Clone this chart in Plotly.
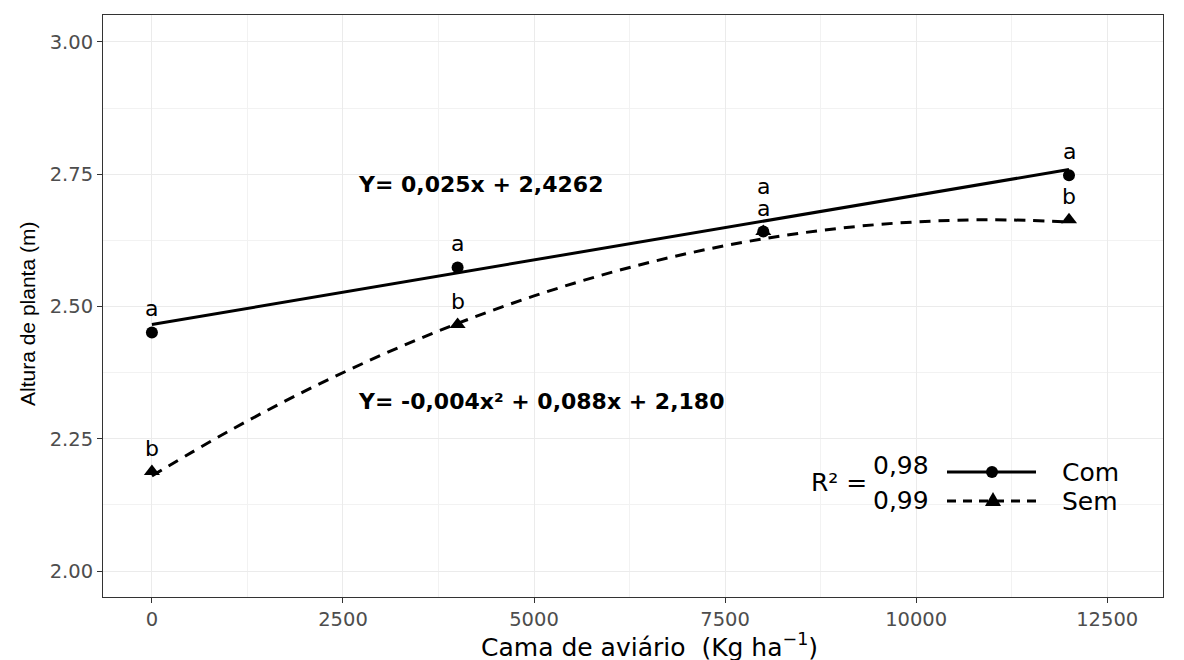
import plotly.graph_objects as go

# ---- data ----
doses = [0, 4000, 8000, 12000]
com_obs = [2.451, 2.574, 2.642, 2.748]
sem_obs = [2.188, 2.466, 2.642, 2.664]
com_letters = ["a", "a", "a", "a"]
sem_letters = ["b", "b", "a", "b"]

com_fit_x = [0, 12000]
com_fit_y = [2.466, 2.759]
sem_fit_x = [0, 1000, 2000, 3000, 4000, 5000, 6000, 7000, 8000, 9000, 10000, 11000, 12000]
sem_fit_y = [2.180, 2.264, 2.340, 2.408, 2.468, 2.520, 2.564, 2.600, 2.628, 2.648, 2.660, 2.664, 2.660]

eq_com = "Y= 0,025x + 2,4262"
eq_sem = "Y= -0,004x² + 0,088x + 2,180"
r2_com = "0,98"
r2_sem = "0,99"

x_ticks = [0, 2500, 5000, 7500, 10000, 12500]
x_ticktext = ["0", "2500", "5000", "7500", "10000", "12500"]
y_ticks = [2.00, 2.25, 2.50, 2.75, 3.00]

fig = go.Figure()

fig.add_trace(go.Scatter(x=com_fit_x, y=com_fit_y, mode="lines",
                         line=dict(color="black", width=3), showlegend=False, hoverinfo="skip"))
fig.add_trace(go.Scatter(x=sem_fit_x, y=sem_fit_y, mode="lines", line_shape="spline",
                         line=dict(color="black", width=3, dash="11px,8px"), showlegend=False, hoverinfo="skip"))
fig.add_trace(go.Scatter(x=doses, y=com_obs, mode="markers",
                         marker=dict(symbol="circle", size=12, color="black"), showlegend=False))
fig.add_trace(go.Scatter(x=doses, y=sem_obs, mode="markers",
                         marker=dict(symbol="triangle-up", size=14, color="black"), showlegend=False))

HFONT = "DejaVu Sans, Liberation Sans, Arial"
lab_font = dict(family=HFONT, size=22, color="black")
for i, (x, y, t) in enumerate(zip(doses, com_obs, com_letters)):
    extra = 21 if i == 2 else 0
    fig.add_annotation(x=x, y=y, text=t, showarrow=False, yshift=24 + extra, font=lab_font)
for x, y, t in zip(doses, sem_obs, sem_letters):
    fig.add_annotation(x=x, y=y, text=t, showarrow=False, yshift=23, font=lab_font)

eq_font = dict(family="DejaVu Sans, Verdana", size=22, color="black", weight="bold")
fig.add_annotation(x=2670, y=2.731, text=eq_com, showarrow=False, xanchor="left", yanchor="middle", font=eq_font)
fig.add_annotation(x=2670, y=2.320, text=eq_sem, showarrow=False, xanchor="left", yanchor="middle", font=eq_font)

# ---- custom legend and axis titles (paper coords) ----
W, H = 1184, 660
L, R, T, B = 103, 21, 15, 63
pw, ph = W - L - R, H - T - B
def px(xp): return (xp - L) / pw
def py(yp): return 1 - (yp - T) / ph

leg_font = dict(family=HFONT, size=25, color="black")
def leg_text(x, y, text, anchor="left", font=leg_font, angle=0):
    fig.add_annotation(xref="paper", yref="paper", x=px(x), y=py(y), text=text, textangle=angle,
                       showarrow=False, xanchor=anchor, yanchor="middle", font=font)
leg_text(869, 482, "R² =", anchor="right")
leg_text(871, 465, r2_com)
leg_text(871, 500, r2_sem)
leg_text(1060, 472, "Com")
leg_text(1060, 501, "Sem")
fig.add_shape(type="line", xref="paper", yref="paper", x0=px(947), x1=px(1036), y0=py(472), y1=py(472),
              line=dict(color="black", width=3))
fig.add_shape(type="circle", xref="paper", yref="paper", x0=px(986), x1=px(998), y0=py(466), y1=py(478),
              fillcolor="black", line=dict(color="black", width=0))
fig.add_shape(type="line", xref="paper", yref="paper", x0=px(947), x1=px(1036), y0=py(501), y1=py(501),
              line=dict(color="black", width=3, dash="9px,7px"))
fig.add_shape(type="path", xref="paper", yref="paper",
              path=f"M {px(985)} {py(506)} L {px(1001)} {py(506)} L {px(993)} {py(492)} Z",
              fillcolor="black", line=dict(color="black", width=0))

leg_text(649, 645, "Cama de aviário  (Kg ha<sup>−1</sup>)", anchor="center",
         font=dict(family=HFONT, size=25, color="black"))
leg_text(27, 314, "Altura de planta (m)", anchor="center", angle=-90,
         font=dict(family="Liberation Sans, Arial", size=21, color="black"))

axis_common = dict(showline=True, linecolor="#333333", linewidth=1, mirror=True,
                   ticks="outside", ticklen=5, tickcolor="#333333", automargin=False,
                   gridcolor="#EBEBEB", gridwidth=1.2, zeroline=False,
                   tickfont=dict(family=HFONT, size=19.5, color="#4D4D4D"))

fig.update_layout(
    width=W, height=H,
    margin=dict(l=L, r=R, t=T, b=B),
    paper_bgcolor="white", plot_bgcolor="white",
    xaxis=dict(range=[-640, 13230], tickvals=x_ticks, ticktext=x_ticktext,
               minor=dict(dtick=1250, tick0=0, showgrid=True, gridcolor="#F2F2F2", gridwidth=0.6, ticks=""),
               **axis_common),
    yaxis=dict(range=[1.951, 3.051], tickvals=y_ticks, tickformat=".2f",
               minor=dict(dtick=0.125, tick0=0, showgrid=True, gridcolor="#F2F2F2", gridwidth=0.6, ticks=""),
               **axis_common),
)

fig.write_html("out.html")
